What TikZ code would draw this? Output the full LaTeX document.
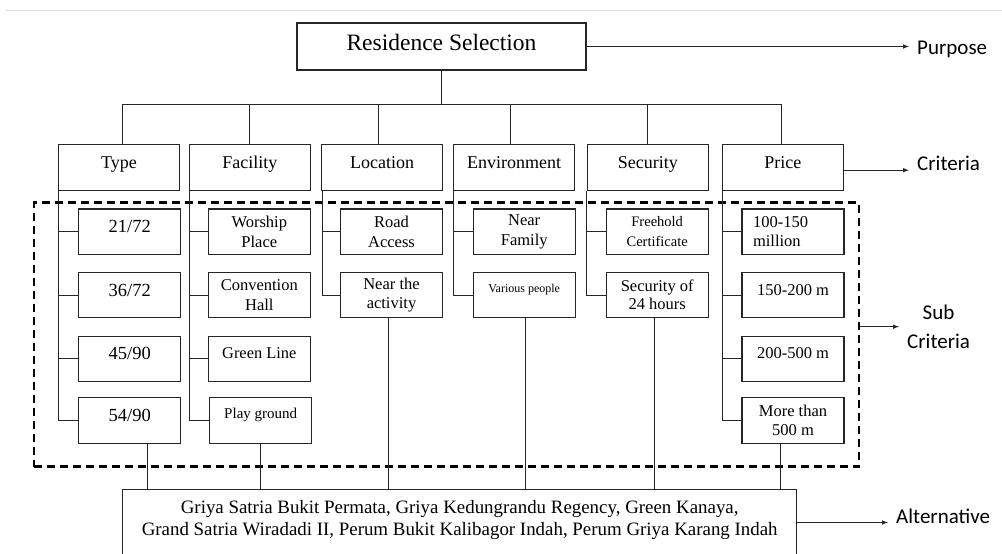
\documentclass[tikz,border=0pt]{standalone}
\usepackage{fontspec}
\setmainfont{Liberation Serif}
\newfontfamily\calibfont{Carlito}
\begin{document}
\begin{tikzpicture}[x=1pt,y=-1pt,
	box/.style={draw=black!85,line width=1.1pt,inner sep=0pt,align=center},
	critbox/.style={box,minimum width=121pt,minimum height=46pt,text height=12pt,text depth=10pt,font=\fontsize{18}{22}\selectfont},
	subbox/.style={box,minimum width=102pt,minimum height=45.5pt,font=\fontsize{16.5}{19.5}\selectfont},
	onebox/.style={subbox,text height=11pt,text depth=11pt},
	numbox/.style={subbox,text height=13pt,text depth=11pt,font=\fontsize{18.5}{22}\selectfont},
	dashbox/.style={draw=black,line width=2.6pt,dash pattern=on 8pt off 5pt,inner sep=0pt},
	sidelabel/.style={font=\calibfont\fontsize{21}{28.7}\selectfont,inner sep=8pt,align=center,anchor=west},
	wire/.style={draw=black!85,line width=1pt},
	arrowline/.style={wire,-latex}]
	\clip (0,0) rectangle (1002,554);
	\useasboundingbox (0,0) rectangle (1002,554);
	\draw[black!12,line width=1pt] (5,10.5) -- (1002,10.5);
	\node[box,minimum width=289pt,minimum height=47pt,text height=16pt,text depth=7.6pt,font=\fontsize{23.5}{28}\selectfont] (goal) at (441.5,46.5) {Residence Selection};
	\coordinate (bus) at (441.5,104);
	\node[critbox] (type) at (119,167.2) {Type};
	\node[critbox] (fac) at (249.8,167.2) {Facility};
	\node[critbox] (loc) at (382.2,167.2) {Location};
	\node[critbox] (env) at (514,167.2) {Environment};
	\node[critbox] (sec) at (647.8,167.2) {Security};
	\node[critbox] (price) at (782.8,167.2) {Price};
	\draw[wire] (goal) -- (bus);
	\draw[wire] ([xshift=3.7pt]type.north) |- (bus);
	\draw[wire] (fac.north) |- (bus);
	\draw[wire] ([xshift=-3.9pt]loc.north) |- (bus);
	\draw[wire] ([xshift=-3.7pt]env.north) |- (bus);
	\draw[wire] (sec.north) |- (bus);
	\draw[wire] ([xshift=-1.8pt]price.north) |- (bus);
	\node[dashbox,minimum width=825pt,minimum height=264pt] (subgrp) at (446.5,334.7) {};
	\node[numbox] (t1) at (129.7,231.7) {21/72};
	\node[numbox] (t2) at (129.7,295) {36/72};
	\node[numbox] (t3) at (129.7,358.8) {45/90};
	\node[numbox] (t4) at (129.7,420.5) {54/90};
	\node[subbox] (f1) at (259.3,231.7) {Worship\\Place};
	\node[subbox] (f2) at (259.3,295) {Convention\\Hall};
	\node[subbox,text height=11pt,text depth=12pt,font=\fontsize{16.4}{19.5}\selectfont] (f3) at (259.3,358.8) {Green Line};
	\node[subbox,text height=10pt,text depth=15pt,font=\fontsize{15}{19.5}\selectfont] (f4) at (260.7,420.5) {Play ground};
	\node[subbox] (l1) at (391.5,231.7) {Road\\Access};
	\node[subbox,font=\fontsize{16.5}{18.3}\selectfont] (l2) at (391.5,295) {Near the\\activity};
	\node[subbox] (e1) at (524.2,231.7) {Near\\Family};
	\node[subbox,text height=8pt,text depth=14pt,font=\fontsize{12}{15}\selectfont] (e2) at (524.2,295) {Various people};
	\node[subbox,font=\fontsize{14.5}{19.5}\selectfont] (s1) at (657.2,231.7) {Freehold\\Certificate};
	\node[subbox,font=\fontsize{16.5}{18.3}\selectfont] (s2) at (657.2,295) {Security of\\24 hours};
	\node[subbox,align=left,text width=80pt] (p1) at (793,231.7) {100-150\\million};
	\node[onebox] (p2) at (793,295) {150-200 m};
	\node[onebox] (p3) at (793,358.8) {200-500 m};
	\node[subbox] (p4) at (793,420.5) {More than\\500 m};
	\draw[wire] ([xshift=1pt]type.south west) |- (t1.west);
	\draw[wire] ([xshift=1pt]type.south west) |- (t2.west);
	\draw[wire] ([xshift=1pt]type.south west) |- (t3.west);
	\draw[wire] ([xshift=1pt]type.south west) |- (t4.west);
	\draw[wire] ([xshift=1pt]fac.south west) |- (f1.west);
	\draw[wire] ([xshift=1pt]fac.south west) |- (f2.west);
	\draw[wire] ([xshift=1pt]fac.south west) |- (f3.west);
	\draw[wire] ([xshift=1pt]fac.south west) |- (f4.west);
	\draw[wire] ([xshift=1pt]loc.south west) |- (l1.west);
	\draw[wire] ([xshift=1pt]loc.south west) |- (l2.west);
	\draw[wire] ([xshift=1pt]env.south west) |- (e1.west);
	\draw[wire] ([xshift=1pt]env.south west) |- (e2.west);
	\draw[wire] (sec.south west) |- (s1.west);
	\draw[wire] (sec.south west) |- (s2.west);
	\draw[wire] ([xshift=1pt]price.south west) |- (p1.west);
	\draw[wire] ([xshift=1pt]price.south west) |- (p2.west);
	\draw[wire] ([xshift=1pt]price.south west) |- (p3.west);
	\draw[wire] ([xshift=1pt]price.south west) |- (p4.west);
	\node[box,anchor=north,minimum width=674pt,inner ysep=10.5pt,text depth=60pt,font=\fontsize{18.9}{22.5}\selectfont] (alt) at (459.7,489) {Griya Satria Bukit Permata, Griya Kedungrandu Regency, Green Kanaya,\\Grand Satria Wiradadi II, Perum Bukit Kalibagor Indah, Perum Griya Karang Indah};
	\draw[wire] ([xshift=18pt]t4.south) -- ([xshift=18pt]t4.south |- alt.north);
	\draw[wire] (f4.south) -- (f4.south |- alt.north);
	\draw[wire] ([xshift=-3.2pt]l2.south) -- ([xshift=-3.2pt]l2.south |- alt.north);
	\draw[wire] ([xshift=1.1pt]e2.south) -- ([xshift=1.1pt]e2.south |- alt.north);
	\draw[wire] ([xshift=-3.2pt]s2.south) -- ([xshift=-3.2pt]s2.south |- alt.north);
	\draw[wire] ([xshift=-12.3pt]p4.south) -- ([xshift=-12.3pt]p4.south |- alt.north);
	\node[sidelabel] (purpose) at (909,49) {Purpose};
	\node[sidelabel] (crit) at (909,163.7) {Criteria};
	\node[sidelabel] (sublabel) at (899,327) {Sub\\Criteria};
	\node[sidelabel] (altlabel) at (888,516.5) {Alternative};
	\draw[arrowline] (goal.east) -- (goal.east -| purpose.west);
	\draw[arrowline] ([yshift=-3pt]price.east) -- ([yshift=-3pt]price.east -| crit.west);
	\draw[arrowline] ([yshift=8pt]subgrp.east) -- ([yshift=8pt]subgrp.east -| sublabel.west);
	\draw[arrowline] ([yshift=-6pt]altlabel.west -| alt.east) -- ([yshift=-6pt]altlabel.west);
\end{tikzpicture}
\end{document}
